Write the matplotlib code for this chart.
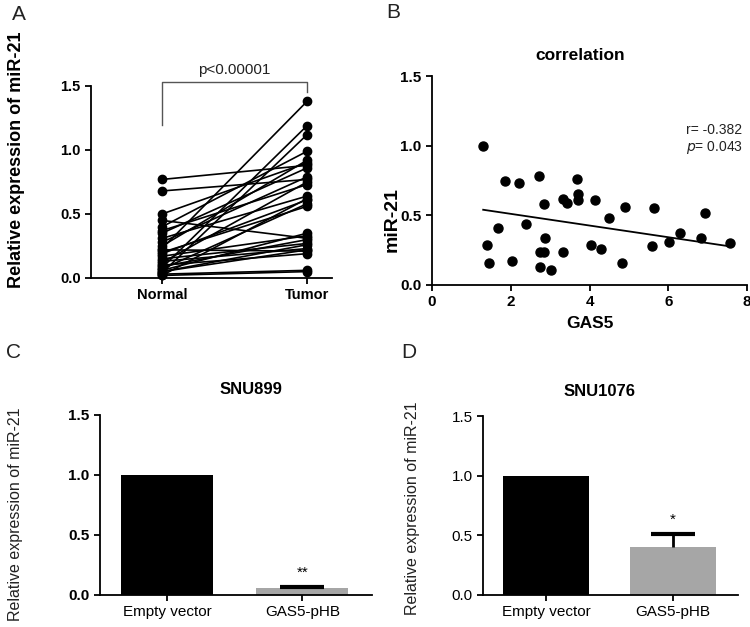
import numpy as np
import matplotlib
matplotlib.use("Agg")
import matplotlib.pyplot as plt

plt.rcParams['font.family'] = ['Liberation Sans', 'DejaVu Sans']

# A: paired normal / tumor values
normal_vals = [0.77, 0.68, 0.50, 0.45, 0.40, 0.37, 0.35, 0.31, 0.28, 0.25,
               0.23, 0.22, 0.20, 0.19, 0.17, 0.15, 0.13, 0.12, 0.10, 0.08,
               0.07, 0.06, 0.05, 0.04, 0.03, 0.02, 0.05, 0.09, 0.02]
tumor_vals = [0.88, 0.77, 0.90, 0.31, 0.99, 0.73, 0.86, 0.64, 0.79, 0.92,
              1.38, 0.21, 0.56, 0.61, 0.33, 0.27, 0.23, 0.75, 0.19, 1.19,
              0.58, 0.35, 0.22, 1.12, 0.06, 0.05, 0.26, 0.30, 0.62]
groups_a = ['Normal', 'Tumor']

# B: GAS5 vs miR-21
gas5 = [1.30, 1.40, 1.44, 1.67, 1.86, 2.02, 2.20, 2.39, 2.71, 2.75, 2.75, 2.84,
        2.85, 2.87, 3.03, 3.33, 3.33, 3.43, 3.68, 3.70, 3.72, 4.04, 4.13, 4.28,
        4.50, 4.83, 4.90, 5.58, 5.63, 6.03, 6.31, 6.83, 6.94, 7.56]
mir21 = [1.00, 0.29, 0.16, 0.41, 0.75, 0.17, 0.73, 0.44, 0.78, 0.24, 0.13, 0.24,
         0.58, 0.34, 0.11, 0.62, 0.24, 0.59, 0.76, 0.65, 0.61, 0.29, 0.61, 0.26,
         0.48, 0.16, 0.56, 0.28, 0.55, 0.31, 0.37, 0.34, 0.52, 0.30]
# fitted line as printed in the figure
fit_x = [1.30, 7.50]
fit_y = [0.54, 0.28]

# C / D: bar charts
bar_labels = ['Empty vector', 'GAS5-pHB']
snu899_vals = [1.0, 0.055]
snu899_err = [0.0, 0.012]
snu1076_vals = [1.0, 0.40]
snu1076_err = [0.0, 0.11]
bar_colors = ['#000000', '#a6a6a6']

W, H = 750, 627
fig = plt.figure(figsize=(W / 100, H / 100), dpi=100)


def px_axes(l, t, r, b):
    return fig.add_axes([l / W, 1 - b / H, (r - l) / W, (b - t) / H])


def ft(x, y, s, **kw):
    fig.text(x / W, 1 - y / H, s, **kw)


def style(ax, bold_ticks=True):
    for s in ['top', 'right']:
        ax.spines[s].set_visible(False)
    for s in ['left', 'bottom']:
        ax.spines[s].set_linewidth(1.3)
    ax.tick_params(direction='out', length=4, width=1.3, colors='black')
    for lab in ax.get_xticklabels() + ax.get_yticklabels():
        lab.set_fontweight('bold' if bold_ticks else 'normal')


# ---- panel A
ax = px_axes(91, 86, 332, 278)
for n, t in zip(normal_vals, tumor_vals):
    ax.plot([0, 1], [n, t], '-o', color='black', lw=1.2, ms=6, clip_on=False)
ax.set_xlim(-0.49, 1.172)
ax.set_ylim(0, 1.5)
ax.set_yticks([0, 0.5, 1.0, 1.5])
ax.set_yticklabels(['0.0', '0.5', '1.0', '1.5'], fontsize=10.5)
ax.set_xticks([0, 1])
ax.set_xticklabels(groups_a, fontsize=10.5)
style(ax)
ax.plot([0, 0, 1, 1], [1.195, 1.53, 1.53, 1.453], color='#555555', lw=1,
        clip_on=False)
ax.text(0.5, 1.625, 'p<0.00001', ha='center', va='center', fontsize=11,
        color='#222222')
ft(17, 160, 'Relative expression of miR-21', rotation=90, ha='center',
   va='center', fontsize=13, fontweight='bold')
ft(12, 15, 'A', ha='left', va='center', fontsize=15, color='#222222')

# ---- panel B
ax = px_axes(432, 76, 747, 285)
ax.plot(gas5, mir21, 'o', color='black', ms=6.5, clip_on=False)
ax.plot(fit_x, fit_y, color='black', lw=1.3)
ax.set_xlim(0, 8)
ax.set_ylim(0, 1.5)
ax.set_xticks([0, 2, 4, 6, 8])
ax.set_xticklabels(['0', '2', '4', '6', '8'], fontsize=11)
ax.set_yticks([0, 0.5, 1.0, 1.5])
ax.set_yticklabels(['0.0', '0.5', '1.0', '1.5'], fontsize=11)
style(ax)
ft(580, 56, 'correlation', ha='center', va='center', fontsize=12.5,
   fontweight='bold')
ft(590, 324, 'GAS5', ha='center', va='center', fontsize=12.5,
   fontweight='bold')
ft(392, 220, 'miR-21', rotation=90, ha='center', va='center', fontsize=14,
   fontweight='bold')
ft(686, 130, 'r= -0.382', ha='left', va='center', fontsize=10,
   color='#222222')
ft(686, 147, r'$p$= 0.043', ha='left', va='center', fontsize=10,
   color='#222222')
ft(386, 13, 'B', ha='left', va='center', fontsize=15, color='#222222')


# ---- panels C / D
def bar_panel(rect, vals, errs, title, stars, title_x, ylab_x, ylab_y,
              bold_ticks):
    ax = px_axes(*rect)
    x = np.arange(len(vals))
    ax.bar(x, vals, width=0.68, color=bar_colors, zorder=2)
    _, caps, _ = ax.errorbar(x[1:], vals[1:],
                             yerr=[[0] * (len(vals) - 1), errs[1:]],
                             fmt='none', ecolor='black', elinewidth=2,
                             capsize=16, capthick=3, zorder=3)
    caps[0].set_visible(False)  # only the upper cap
    ax.text(1, vals[1] + errs[1] + 0.06, stars, ha='center', va='bottom',
            fontsize=11)
    ax.set_xlim(-0.496, 1.515)
    ax.set_ylim(0, 1.5)
    ax.set_yticks([0, 0.5, 1.0, 1.5])
    ax.set_yticklabels(['0.0', '0.5', '1.0', '1.5'], fontsize=11)
    ax.set_xticks(x)
    ax.set_xticklabels(bar_labels, fontsize=11)
    style(ax, bold_ticks)
    for lab in ax.get_xticklabels():
        lab.set_fontweight('normal')
    top = rect[1]
    ft(title_x, top - 25, title, ha='center', va='center', fontsize=12,
       fontweight='bold')
    ft(ylab_x, ylab_y, 'Relative expression of miR-21', rotation=90,
       ha='center', va='center', fontsize=11.5, color='#222222')
    return ax


bar_panel((100, 415, 372, 595), snu899_vals, snu899_err, 'SNU899', '**',
          251, 16, 514, True)
ft(6, 352, 'C', ha='left', va='center', fontsize=15, color='#222222')
bar_panel((483, 416, 738, 595), snu1076_vals, snu1076_err, 'SNU1076', '*',
          600, 413, 508, False)
ft(401, 352, 'D', ha='left', va='center', fontsize=15, color='#222222')

fig.savefig('out.png', dpi=100)
